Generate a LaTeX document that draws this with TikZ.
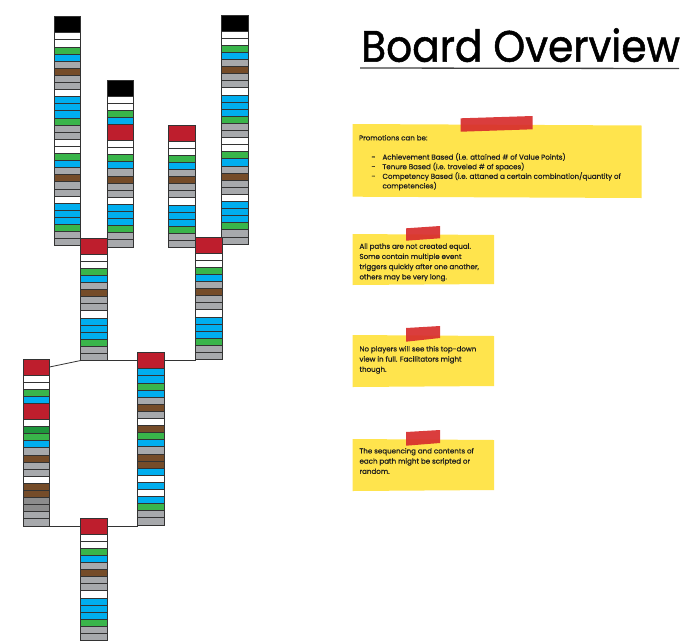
\documentclass[tikz,border=0pt]{standalone}
\usepackage{fontspec}
\setmainfont{Poppins}
\newfontfamily\titlefont{Poppins}[FakeBold=1.2]
\newfontfamily\notefont{Poppins}[FakeBold=0.6]
\definecolor{tgreen}{RGB}{57,181,74}
\definecolor{tdgreen}{RGB}{30,150,60}
\definecolor{tblue}{RGB}{0,174,239}
\definecolor{tgray}{RGB}{167,169,172}
\definecolor{tdgray}{RGB}{140,140,140}
\definecolor{tbrown}{RGB}{117,76,41}
\definecolor{tred}{RGB}{190,30,45}
\definecolor{noteyellow}{RGB}{255,228,77}
\definecolor{tapered}{RGB}{215,45,45}
\definecolor{inkc}{RGB}{30,30,30}
\tikzset{
  tile/.style={draw=black!80, line width=0.7pt, minimum width=26.5pt,
    minimum height=7.1pt, inner sep=0pt, outer sep=0pt, anchor=north west},
  t/K/.style={fill=black, minimum height=16pt},
  t/R/.style={fill=tred, minimum height=16pt},
  t/w/.style={fill=white},
  t/g/.style={fill=tgreen},
  t/d/.style={fill=tdgreen},
  t/b/.style={fill=tblue},
  t/y/.style={fill=tgray},
  t/z/.style={fill=tdgray},
  t/n/.style={fill=tbrown},
  origin/.style={inner sep=0pt, outer sep=0pt, minimum size=0pt},
  conn/.style={draw=black!80, line width=0.8pt},
  note/.style={fill=noteyellow, draw=none},
  tape/.style={fill=tapered, draw=none, opacity=0.92},
  notetext/.style={inner sep=0pt, outer sep=0pt, anchor=north west, align=left,
    text=inkc, font=\notefont\fontsize{7.1}{10.2}\selectfont},
}
\newcommand{\tilecol}[4]{%
  \node[origin] (#1-0) at (#2,#3) {};
  \edef\tilelist{#4}%
  \foreach \c [count=\i] in \tilelist {%
    \pgfmathtruncatemacro\prev{\i-1}%
    \edef\tmp{\noexpand\node[tile, t/\c] (#1-\i) at (#1-\prev.south west) {};}%
    \tmp
  }%
}
\def\P{w,w,g,b,y,n,y,y,w,b,b,b,g,y,y}
\begin{document}
\begin{tikzpicture}[x=1pt, y=-1pt]
\useasboundingbox (0,0) rectangle (688,643);
\fill[white] (0,0) rectangle (688,643);

% columns
\tilecol{A}{54}{16.7}{K,\P,\P}
\tilecol{B}{107}{80}{K,w,w,g,b,R,\P}
\tilecol{C}{168.5}{125}{R,\P}
\tilecol{D}{221.5}{15}{K,\P,\P}
\tilecol{E}{80.7}{238}{R,\P}
\tilecol{F}{195.5}{237}{R,\P}
\tilecol{G}{23}{359}{R,w,w,g,b,R,w,d,g,b,y,n,y,y,w,n,n,z,z,y,y}
\tilecol{H}{137.7}{352.7}{R,b,b,g,b,y,n,y,w,n,g,b,y,n,n,b,w,b,w,b,g,y,y}
\tilecol{I}{80.7}{518}{R,\P}

% connectors
\draw[conn] (G-1.east) -- (E-16.south west);
\draw[conn] (H-1.west) -- (H-1.west -| E-16.east);
\draw[conn] (H-1.east) -- (H-1.east -| F-16.west);
\draw[conn] (I-1.west) -- (I-1.west -| G-21.east);
\draw[conn] (I-1.east) -- (I-1.east -| H-23.west);

% title
\node[inner sep=0pt, anchor=base west, text=black] (title) at (361,61.7) {\scalebox{0.925}[1]{\titlefont\fontsize{44}{44}\selectfont Board Overview}};
\coordinate (ul1) at (360,68);
\coordinate (ul2) at (679,68.5);
\draw[line width=1.3pt, black!75] (ul1) -- (ul2);

% notes
\fill[note] (352.7,124) -- (641.7,125.5) -- (641.7,198) -- (352.7,196.7) -- cycle;
\fill[tape] (460.7,118.3) -- (532.7,116) -- (532.7,129.3) -- (460.7,131.7) -- cycle;
\node[notetext, font=\notefont\fontsize{7.1}{9.6}\selectfont] (n1) at (359,135) {Promotions can be:\\[9.6pt]
\makebox[23.5pt][l]{\hspace*{12.5pt}-}Achievement Based (i.e. attained \# of Value Points)\\
\makebox[23.5pt][l]{\hspace*{12.5pt}-}Tenure Based (i.e. traveled \# of spaces)\\
\makebox[23.5pt][l]{\hspace*{12.5pt}-}Competency Based (i.e. attaned a certain combination/quantity of\\
\hspace*{23.5pt}competencies)};

\fill[note] (352.7,234) -- (494,235) -- (494,284) -- (352.7,285) -- cycle;
\fill[tape] (406,228.3) -- (440,226) -- (440,238.3) -- (406,240.7) -- cycle;
\node[notetext] (n2) at (359.5,243.5) {All paths are not created equal.\\Some contain multiple event\\triggers quickly after one another,\\others may be very long.};

\fill[note] (352.7,335) -- (494,336) -- (494,386) -- (352.7,387) -- cycle;
\fill[tape] (406,328) -- (440,326) -- (440,338) -- (406,341.7) -- cycle;
\node[notetext] (n3) at (359.5,346) {No players will see this top-down\\view in full. Facilitators might\\though.};

\fill[note] (352.7,439) -- (494,440) -- (494,490) -- (352.7,491) -- cycle;
\fill[tape] (406,432) -- (440,430) -- (440,443) -- (406,445.7) -- cycle;
\node[notetext] (n4) at (359.5,448) {The sequencing and contents of\\each path might be scripted or\\random.};
\end{tikzpicture}
\end{document}
